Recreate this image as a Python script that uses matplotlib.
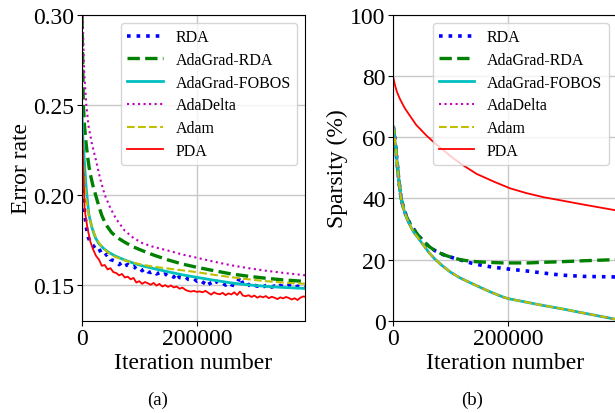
import numpy as np
import matplotlib
matplotlib.use("Agg")
import matplotlib.pyplot as plt

plt.rcParams['font.family'] = ['Liberation Serif', 'DejaVu Serif']

# ---------------- Data: panel (a) error rate ----------------
labels = ["RDA", "AdaGrad-RDA", "AdaGrad-FOBOS", "AdaDelta", "Adam", "PDA"]

iter_noisy = list(range(0, 395000, 5000))

err_rda = [0.235, 0.190, 0.1775, 0.1735, 0.1718, 0.1695, 0.1702, 0.1668, 0.1660, 0.1672,
           0.1640, 0.1635, 0.1628, 0.1612, 0.1625, 0.1605, 0.1612, 0.1598, 0.1603, 0.1588,
           0.1595, 0.1578, 0.1590, 0.1572, 0.1568, 0.1575, 0.1560, 0.1566, 0.1552, 0.1560,
           0.1548, 0.1553, 0.1542, 0.1565, 0.1540, 0.1538, 0.1545, 0.1530, 0.1528, 0.1535,
           0.1520, 0.1528, 0.1515, 0.1505, 0.1522, 0.1495, 0.1512, 0.1518, 0.1505, 0.1510,
           0.1498, 0.1512, 0.1500, 0.1495, 0.1508, 0.1545, 0.1505, 0.1490, 0.1502, 0.1485,
           0.1498, 0.1492, 0.1500, 0.1488, 0.1495, 0.1502, 0.1487, 0.1493, 0.1484, 0.1496,
           0.1490, 0.1483, 0.1497, 0.1488, 0.1480, 0.1492, 0.1486, 0.1495, 0.1490]

err_pda = [0.245, 0.192, 0.1815, 0.1740, 0.1695, 0.1660, 0.1640, 0.1605, 0.1610, 0.1585,
           0.1592, 0.1570, 0.1565, 0.1552, 0.1560, 0.1540, 0.1545, 0.1530, 0.1538, 0.1512,
           0.1520, 0.1505, 0.1515, 0.1508, 0.1500, 0.1510, 0.1495, 0.1505, 0.1490, 0.1498,
           0.1488, 0.1496, 0.1485, 0.1490, 0.1478, 0.1484, 0.1472, 0.1465, 0.1462, 0.1466,
           0.1460, 0.1463, 0.1458, 0.1466, 0.1455, 0.1445, 0.1458, 0.1450, 0.1447, 0.1455,
           0.1442, 0.1452, 0.1446, 0.1458, 0.1443, 0.1462, 0.1440, 0.1436, 0.1442, 0.1432,
           0.1440, 0.1428, 0.1436, 0.1430, 0.1437, 0.1425, 0.1433, 0.1428, 0.1420, 0.1430,
           0.1424, 0.1432, 0.1426, 0.1418, 0.1425, 0.1415, 0.1428, 0.1435, 0.1432]

iter_agrda = [0, 500, 2800, 5000, 7300, 10000, 13000, 16000, 20000, 25000, 30000, 35000,
              42000, 52000, 62000, 75000, 90000, 105000, 125000, 150000, 175000, 200000,
              230000, 260000, 290000, 320000, 350000, 390000]
err_agrda = [0.42, 0.30, 0.25, 0.238, 0.2297, 0.222, 0.215, 0.210, 0.2045, 0.199, 0.1935,
             0.1885, 0.1835, 0.1790, 0.1762, 0.1736, 0.1710, 0.1690, 0.1665, 0.1638, 0.1615,
             0.1597, 0.1578, 0.1560, 0.1547, 0.1536, 0.1527, 0.1518]

iter_fobos = [0, 2000, 4000, 6000, 8000, 12500, 18000, 24000, 30000, 38000, 46000, 58000,
              75000, 90000, 104000, 125000, 150000, 175000, 200000, 230000, 260000, 290000,
              320000, 350000, 390000]
err_fobos = [0.25, 0.232, 0.222, 0.212, 0.203, 0.189, 0.1815, 0.176, 0.1728, 0.1702, 0.1682,
             0.1660, 0.1637, 0.1620, 0.1606, 0.1590, 0.1572, 0.1555, 0.1541, 0.1525, 0.1510,
             0.1499, 0.1491, 0.1485, 0.1479]

iter_adadelta = [0, 1700, 4000, 8000, 12000, 18000, 25000, 32000, 40000, 50000, 60000, 75000,
                 90000, 105000, 125000, 150000, 175000, 200000, 230000, 260000, 290000,
                 320000, 350000, 390000]
err_adadelta = [0.45, 0.30, 0.27, 0.25, 0.238, 0.228, 0.219, 0.209, 0.200, 0.1925, 0.1865,
                0.1800, 0.1760, 0.1732, 0.1710, 0.1690, 0.1668, 0.1650, 0.1628, 0.1608,
                0.1592, 0.1578, 0.1566, 0.1552]

iter_adam = [0, 2000, 5000, 8000, 11600, 17000, 23100, 29000, 34800, 45000, 58000, 75000,
             90000, 104300, 125000, 150000, 175000, 200000, 230000, 260000, 290000, 320000,
             350000, 390000]
err_adam = [0.235, 0.222, 0.207, 0.197, 0.190, 0.183, 0.1773, 0.1738, 0.1712, 0.1680, 0.1655,
            0.1635, 0.1622, 0.1612, 0.1600, 0.1590, 0.1580, 0.1570, 0.1555, 0.1542, 0.1530,
            0.1520, 0.1512, 0.1505]

# ---------------- Data: panel (b) sparsity (%) ----------------
iter_sp = [0, 1700, 4000, 6000, 9000, 13400, 18000, 23300, 30000, 36000, 43500, 52000, 62000,
           72500, 85000, 100000, 115000, 130400, 150000, 170000, 191300, 200000, 230000,
           260000, 292800, 320000, 350000, 382600, 390000]
sp_fobos = [63.5, 61, 57, 53, 47, 40, 36.5, 33.6, 30.8, 28.8, 27, 24.8, 22.3, 20.1, 18, 15.8,
            14.1, 12.7, 11.0, 9.3, 7.7, 7.2, 6.1, 5.0, 3.9, 2.9, 1.8, 0.6, 0.35]
sp_adam = sp_fobos
sp_adadelta = sp_fobos

iter_sp2 = [0, 1700, 4000, 6000, 9000, 13400, 18000, 23300, 30000, 36000, 43500, 52000, 62000,
            72500, 87000, 101500, 118000, 136300, 153700, 170000, 191300, 200000, 234800,
            260000, 292800, 330000, 360000, 390000]
sp_agrda = [63.5, 61, 57, 53, 47, 40.2, 36.6, 33.9, 31.3, 29.8, 27.9, 26.0, 24.3, 22.9, 21.6,
            20.7, 19.9, 19.4, 19.2, 19.05, 18.9, 18.9, 18.9, 19.1, 19.3, 19.6, 19.8, 20.0]
sp_rda = [63.5, 61, 57, 53, 47, 40.2, 36.6, 33.9, 31.3, 29.8, 27.9, 26.0, 24.3, 22.9, 21.6,
          20.7, 19.8, 18.8, 18.1, 17.6, 17.1, 16.9, 16.2, 15.6, 14.9, 14.5, 14.4, 14.3]

iter_pda = [0, 3000, 6000, 11600, 20000, 29000, 40000, 58000, 72500, 87000, 101500, 120000,
            145000, 177000, 203000, 230000, 261000, 293000, 330000, 360000, 390000]
sp_pda = [79.5, 77, 75, 72.5, 69.5, 67, 64, 60.5, 58, 55.8, 53.5, 51, 48, 45.3, 43.3, 41.8,
          40.4, 39.3, 38.0, 37.0, 36.0]

styles = [
    dict(color='b', ls=':', lw=2.6),
    dict(color='g', ls='--', lw=2.4),
    dict(color='c', ls='-', lw=2.0),
    dict(color='m', ls=':', lw=1.5),
    dict(color='y', ls='--', lw=1.5),
    dict(color='r', ls='-', lw=1.3),
]

fig = plt.figure(figsize=(6.15, 4.14), dpi=100)
W, H = 615, 414
ax1 = fig.add_axes([81.7 / W, 1 - 321.7 / H, 223.3 / W, 305.7 / H])
ax2 = fig.add_axes([393.3 / W, 1 - 321.7 / H, 223.3 / W, 305.7 / H])

series_a = [(iter_noisy, err_rda), (iter_agrda, err_agrda), (iter_fobos, err_fobos),
            (iter_adadelta, err_adadelta), (iter_adam, err_adam), (iter_noisy, err_pda)]
series_b = [(iter_sp2, sp_rda), (iter_sp2, sp_agrda), (iter_sp, sp_fobos),
            (iter_sp, sp_adadelta), (iter_sp, sp_adam), (iter_pda, sp_pda)]

for (x, y), lab, st in zip(series_a, labels, styles):
    ax1.plot(x, y, label=lab, **st)
for (x, y), lab, st in zip(series_b, labels, styles):
    ax2.plot(x, y, label=lab, **st)

ax1.set_xlim(0, 388000)
ax1.set_ylim(0.13, 0.30)
ax1.set_yticks([0.15, 0.20, 0.25, 0.30])
ax1.set_yticklabels(["0.15", "0.20", "0.25", "0.30"])
ax1.set_ylabel("Error rate", fontsize=17, labelpad=1)

ax2.set_xlim(0, 388000)
ax2.set_ylim(0, 100)
ax2.set_yticks([0, 20, 40, 60, 80, 100])
ax2.set_ylabel("Sparsity (%)", fontsize=17, labelpad=2)

for ax in (ax1, ax2):
    ax.set_xticks([0, 200000])
    ax.set_xticklabels(["0", "200000"])
    ax.set_xlabel("Iteration number", fontsize=17, labelpad=2)
    ax.tick_params(labelsize=17, length=3.5, pad=2)
    ax.grid(True, color='#c8c8c8', lw=1.0)
    ax.set_axisbelow(True)
    ax.legend(loc='upper right', fontsize=11.5, handlelength=2.2, labelspacing=0.42,
              borderpad=0.4, framealpha=0.8)

fig.text(158 / W, 1 - 400 / H, "(a)", ha='center', va='center', fontsize=13.5)
fig.text(472 / W, 1 - 400 / H, "(b)", ha='center', va='center', fontsize=13.5)

fig.savefig("out.png", dpi=100)
